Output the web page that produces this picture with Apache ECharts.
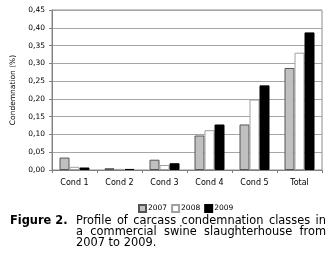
<!DOCTYPE html>
<html>
<head>
<meta charset="utf-8">
<script src="https://cdn.jsdelivr.net/npm/echarts@6/dist/echarts.min.js"></script>
<style>
  html, body { margin: 0; padding: 0; background: #fff; }
  #wrap { position: relative; width: 328px; height: 260px; }
  #chart { position: absolute; left: 0; top: 0; width: 328px; height: 260px; }
  #caption {
    position: absolute; left: 10px; top: 215px; width: 318px;
    font-family: "DejaVu Sans", Verdana, sans-serif; font-size: 11.4px; line-height: 11px;
    color: #000; display: flex;
  }
  #caption .lab { font-weight: bold; width: 66px; flex: none; }
  #caption .txt { width: 250px; }
  #caption .ln { text-align: justify; text-align-last: justify; white-space: nowrap; }
  #caption .ln.last { text-align-last: left; }
</style>
</head>
<body>
<div id="wrap">
  <div id="chart"></div>
  <div id="caption">
    <div class="lab">Figure 2.</div>
    <div class="txt">
      <div class="ln">Profile of carcass condemnation classes in</div>
      <div class="ln">a commercial swine slaughterhouse from</div>
      <div class="ln last">2007 to 2009.</div>
    </div>
  </div>
</div>
<script>
var categories = ['Cond 1', 'Cond 2', 'Cond 3', 'Cond 4', 'Cond 5', 'Total'];
var years = ['2007', '2008', '2009'];
var values2007 = [0.035, 0.005, 0.029, 0.097, 0.128, 0.287];
var values2008 = [0.009, 0.003, 0.014, 0.112, 0.198, 0.330];
var values2009 = [0.007, 0.003, 0.019, 0.128, 0.238, 0.387];

// 初始化
var chart = echarts.init(document.getElementById('chart'));
var font = '"DejaVu Sans", Verdana, sans-serif';

var option = {
  animation: false,
  grid: {
    left: 52, right: 6, top: 10, bottom: 90,
    show: true, borderColor: '#8c8c8c', borderWidth: 1
  },
  legend: {
    data: years,
    top: 199, left: 133,
    itemWidth: 7, itemHeight: 7, itemGap: 4,
    icon: 'rect',
    textStyle: { fontFamily: font, fontSize: 7.5, color: '#000', padding: [0, 0, 0, -3] }
  },
  xAxis: {
    type: 'category',
    data: categories,
    axisLine: { lineStyle: { color: '#808080' } },
    axisTick: { show: true, length: 3, lineStyle: { color: '#808080' } },
    axisLabel: { fontFamily: font, fontSize: 8, color: '#000', margin: 9 }
  },
  yAxis: {
    type: 'value',
    min: 0, max: 0.45, interval: 0.05,
    name: 'Condemnation (%)',
    nameLocation: 'middle',
    nameGap: 32,
    nameTextStyle: { fontFamily: font, fontSize: 7.5, color: '#000' },
    axisLine: { show: true, lineStyle: { color: '#808080' } },
    axisTick: { show: true, length: 3, lineStyle: { color: '#808080' } },
    splitLine: { lineStyle: { color: '#a6a6a6' } },
    axisLabel: {
      fontFamily: font, fontSize: 7.5, color: '#000', margin: 7,
      formatter: function (v) { return v.toFixed(2).replace('.', ','); }
    }
  },
  series: [
    {
      name: '2007', type: 'bar', data: values2007,
      barWidth: 10, barGap: '0%',
      itemStyle: { color: '#c0c0c0', borderColor: '#555', borderWidth: 1 }
    },
    {
      name: '2008', type: 'bar', data: values2008,
      barWidth: 10, barGap: '0%',
      itemStyle: { color: '#fff', borderColor: '#a0a0a0', borderWidth: 1 }
    },
    {
      name: '2009', type: 'bar', data: values2009,
      barWidth: 10, barGap: '0%',
      itemStyle: { color: '#000', borderColor: '#000', borderWidth: 1 }
    }
  ]
};

chart.setOption(option);
</script>
</body>
</html>
